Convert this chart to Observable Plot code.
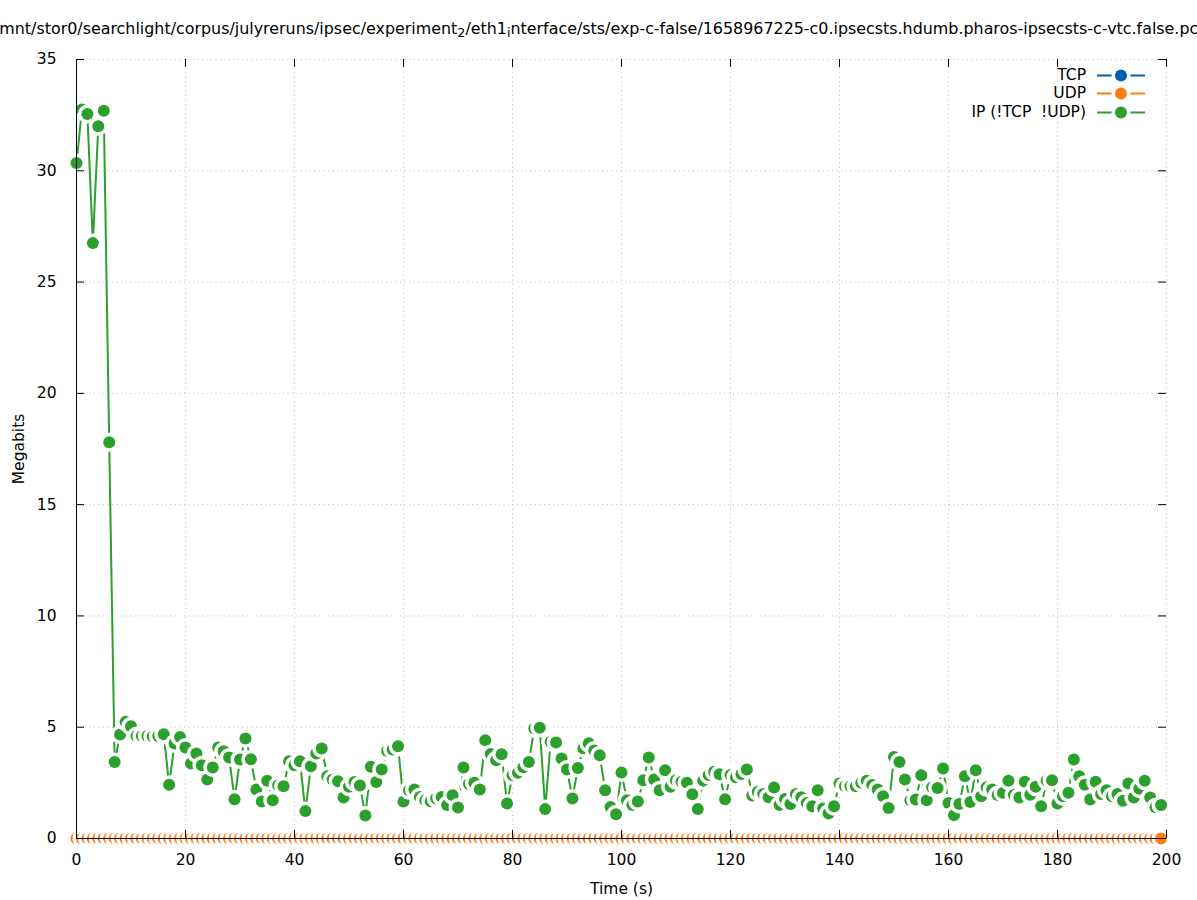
<!DOCTYPE html>
<html>
<head>
<meta charset="utf-8">
<script src="https://cdn.jsdelivr.net/npm/d3@7"></script>
<script src="https://cdn.jsdelivr.net/npm/@observablehq/plot@0.6"></script>
<style>
  html, body { margin: 0; padding: 0; background: white; overflow: hidden; }
  #wrap { position: relative; width: 1197px; height: 900px; font-family: 'DejaVu Sans', sans-serif; }
  #title { position: absolute; left: 606px; top: 21px; transform: translateX(-50%); white-space: nowrap; font-size: 15.9px; line-height: 16px; color: black; }
  #title sub { font-size: 0.8em; line-height: 0; vertical-align: -0.25em; }
  #legend { position: absolute; left: 0; top: 0; width: 1197px; height: 130px; pointer-events: none; }
  .lrow { position: absolute; height: 19px; font-size: 15.5px; line-height: 19px; }
  .lrow .lab { position: absolute; right: 111px; white-space: pre; }
  .lrow svg { position: absolute; left: 1097px; top: 0; }
</style>
</head>
<body>
<div id="wrap">
  <div id="chart"></div>
  <div id="title">/mnt/stor0/searchlight/corpus/julyreruns/ipsec/experiment<sub>2</sub>/eth1<sub>i</sub>nterface/sts/exp-c-false/1658967225-c0.ipsecsts.hdumb.pharos-ipsecsts-c-vtc.false.pcap</div>
  <div id="legend"></div>
</div>
<script>
const seriesNames = ["TCP", "UDP", "IP (!TCP  !UDP)"];
const seriesColors = ["#0060ad", "#ff7f0e", "#2ca02c"];
const xTicks = [0, 20, 40, 60, 80, 100, 120, 140, 160, 180, 200];
const yTicks = [0, 5, 10, 15, 20, 25, 30, 35];

const time = [0,1,2,3,4,5,6,7,8,9,10,11,12,13,14,15,16,17,18,19,20,21,22,23,24,25,26,27,28,29,30,31,32,33,34,35,36,37,38,39,40,41,42,43,44,45,46,47,48,49,50,51,52,53,54,55,56,57,58,59,60,61,62,63,64,65,66,67,68,69,70,71,72,73,74,75,76,77,78,79,80,81,82,83,84,85,86,87,88,89,90,91,92,93,94,95,96,97,98,99,100,101,102,103,104,105,106,107,108,109,110,111,112,113,114,115,116,117,118,119,120,121,122,123,124,125,126,127,128,129,130,131,132,133,134,135,136,137,138,139,140,141,142,143,144,145,146,147,148,149,150,151,152,153,154,155,156,157,158,159,160,161,162,163,164,165,166,167,168,169,170,171,172,173,174,175,176,177,178,179,180,181,182,183,184,185,186,187,188,189,190,191,192,193,194,195,196,197,198,199];

const tcp = [0,0,0,0,0,0,0,0,0,0,0,0,0,0,0,0,0,0,0,0,0,0,0,0,0,0,0,0,0,0,0,0,0,0,0,0,0,0,0,0,0,0,0,0,0,0,0,0,0,0,0,0,0,0,0,0,0,0,0,0,0,0,0,0,0,0,0,0,0,0,0,0,0,0,0,0,0,0,0,0,0,0,0,0,0,0,0,0,0,0,0,0,0,0,0,0,0,0,0,0,0,0,0,0,0,0,0,0,0,0,0,0,0,0,0,0,0,0,0,0,0,0,0,0,0,0,0,0,0,0,0,0,0,0,0,0,0,0,0,0,0,0,0,0,0,0,0,0,0,0,0,0,0,0,0,0,0,0,0,0,0,0,0,0,0,0,0,0,0,0,0,0,0,0,0,0,0,0,0,0,0,0,0,0,0,0,0,0,0,0,0,0,0,0,0,0,0,0,0,0];

const udp = [0,0,0,0,0,0,0,0,0,0,0,0,0,0,0,0,0,0,0,0,0,0,0,0,0,0,0,0,0,0,0,0,0,0,0,0,0,0,0,0,0,0,0,0,0,0,0,0,0,0,0,0,0,0,0,0,0,0,0,0,0,0,0,0,0,0,0,0,0,0,0,0,0,0,0,0,0,0,0,0,0,0,0,0,0,0,0,0,0,0,0,0,0,0,0,0,0,0,0,0,0,0,0,0,0,0,0,0,0,0,0,0,0,0,0,0,0,0,0,0,0,0,0,0,0,0,0,0,0,0,0,0,0,0,0,0,0,0,0,0,0,0,0,0,0,0,0,0,0,0,0,0,0,0,0,0,0,0,0,0,0,0,0,0,0,0,0,0,0,0,0,0,0,0,0,0,0,0,0,0,0,0,0,0,0,0,0,0,0,0,0,0,0,0,0,0,0,0,0,0];

const ip = [
  30.35, 32.75, 32.55, 26.75, 32.0, 32.7, 17.8, 3.44, 4.67, 5.24,
  5.04, 4.6, 4.6, 4.6, 4.58, 4.6, 4.68, 2.42, 4.27, 4.56,
  4.09, 3.37, 3.82, 3.29, 2.65, 3.19, 4.09, 3.92, 3.64, 1.76,
  3.55, 4.49, 3.56, 2.2, 1.66, 2.59, 1.72, 2.39, 2.35, 3.47,
  3.29, 3.47, 1.23, 3.25, 3.82, 4.04, 2.8, 2.65, 2.57, 1.84,
  2.32, 2.54, 2.38, 1.03, 3.22, 2.54, 3.1, 3.93, 4.0, 4.14,
  1.66, 2.17, 2.2, 1.87, 1.72, 1.67, 1.8, 1.87, 1.5, 1.94,
  1.39, 3.19, 2.45, 2.5, 2.2, 4.41, 3.8, 3.52, 3.79, 1.57,
  2.84, 2.95, 3.2, 3.44, 4.94, 4.98, 1.32, 4.34, 4.31, 3.59,
  3.1, 1.8, 3.17, 4.06, 4.28, 3.95, 3.74, 2.17, 1.42, 1.09,
  2.96, 1.72, 1.5, 1.66, 2.62, 3.64, 2.65, 2.17, 3.07, 2.32,
  2.62, 2.55, 2.5, 1.99, 1.32, 2.6, 2.85, 3.0, 2.89, 1.76,
  2.85, 2.75, 2.9, 3.1, 1.93, 2.1, 2.0, 1.85, 2.29, 1.5,
  1.77, 1.55, 2.0, 1.85, 1.6, 1.45, 2.17, 1.35, 1.12, 1.45,
  2.47, 2.35, 2.35, 2.35, 2.5, 2.6, 2.4, 2.2, 1.9, 1.37,
  3.66, 3.44, 2.65, 1.72, 1.75, 2.84, 1.72, 2.3, 2.27, 3.14,
  1.6, 1.05, 1.55, 2.8, 1.64, 3.07, 1.9, 2.3, 2.2, 1.95,
  2.05, 2.59, 1.95, 1.84, 2.55, 1.97, 2.32, 1.45, 2.6, 2.62,
  1.57, 1.9, 2.06, 3.55, 2.8, 2.42, 1.75, 2.55, 2.0, 2.17,
  1.9, 2.0, 1.7, 2.47, 1.84, 2.24, 2.59, 1.84, 1.4, 1.5
];

const seriesValues = [tcp, udp, ip];
const tables = seriesValues.map(vals => time.map((t, i) => ({t, v: vals[i]})));

const W = 1197, H = 900, ML = 76, MR = 31, MT = 59, MB = 62;
const PW = W - ML - MR, PH = H - MT - MB, TICK = 8;

const seriesMarks = tables.flatMap((tbl, k) => [
  Plot.line(tbl, {x: "t", y: "v", stroke: seriesColors[k], strokeWidth: 2}),
  Plot.dot(tbl, {x: "t", y: "v", r: 6, fill: seriesColors[k], stroke: "white", strokeWidth: 7, paintOrder: "stroke"})
]);

const chart = Plot.plot({
  width: W, height: H,
  marginLeft: ML, marginRight: MR, marginTop: MT, marginBottom: MB,
  style: {fontFamily: "'DejaVu Sans', sans-serif", fontSize: "15.5px", background: "white", color: "black", overflow: "visible"},
  x: {domain: [0, 200]},
  y: {domain: [0, 35]},
  marks: [
    Plot.gridX(xTicks.slice(1), {stroke: "#c0c0c0", strokeOpacity: 1, strokeDasharray: "1,3.5"}),
    Plot.gridY(yTicks.slice(1), {stroke: "#c0c0c0", strokeOpacity: 1, strokeDasharray: "1,3.5"}),
    Plot.axisX(xTicks, {tickSize: 0, tickPadding: 15, label: "Time (s)", labelAnchor: "center", labelArrow: "none", labelOffset: 55}),
    Plot.axisY(yTicks, {tickSize: 0, tickPadding: 20, label: "Megabits", labelAnchor: "center", labelArrow: "none", labelOffset: 64}),
    ...seriesMarks,
    Plot.tickX(xTicks, {x: d => d, stroke: "black", insetTop: PH - TICK}),
    Plot.tickX(xTicks, {x: d => d, stroke: "black", insetBottom: PH - TICK}),
    Plot.tickY(yTicks, {y: d => d, stroke: "black", insetRight: PW - TICK}),
    Plot.tickY(yTicks, {y: d => d, stroke: "black", insetLeft: PW - TICK}),
    Plot.ruleX([0], {stroke: "black", strokeWidth: 1}),
    Plot.ruleY([0], {stroke: "black", strokeWidth: 1})
  ]
});
document.getElementById("chart").appendChild(chart);

// legend
const legend = document.getElementById("legend");
const rowTops = [65.5, 84, 103];
seriesNames.forEach((name, k) => {
  const row = document.createElement("div");
  row.className = "lrow";
  row.style.top = rowTops[k] + "px";
  row.style.left = "0px";
  row.style.width = W + "px";
  const lab = document.createElement("span");
  lab.className = "lab";
  lab.textContent = name;
  row.appendChild(lab);
  const svg = d3.create("svg").attr("width", 50).attr("height", 19);
  svg.append("line").attr("x1", 0).attr("x2", 48).attr("y1", 9.5).attr("y2", 9.5)
     .attr("stroke", seriesColors[k]).attr("stroke-width", 2);
  svg.append("circle").attr("cx", 24).attr("cy", 9.5).attr("r", 6)
     .attr("fill", seriesColors[k]).attr("stroke", "white").attr("stroke-width", 7).attr("paint-order", "stroke");
  row.appendChild(svg.node());
  legend.appendChild(row);
});
</script>
</body>
</html>
